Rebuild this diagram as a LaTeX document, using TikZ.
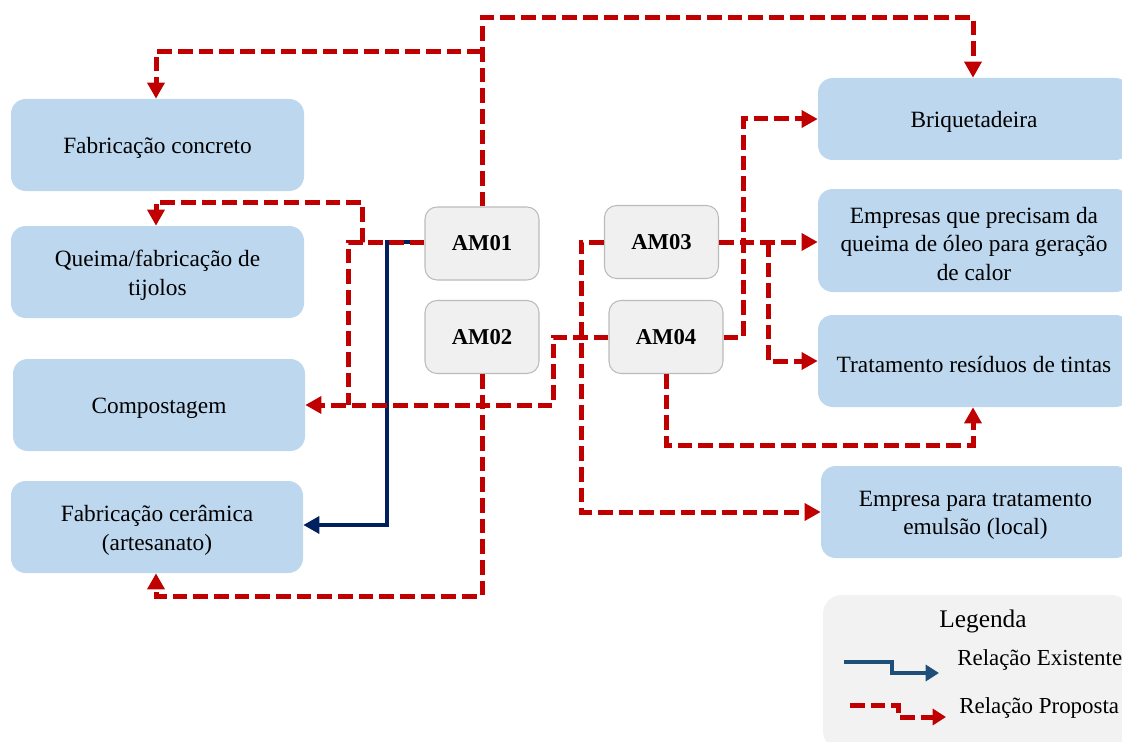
\documentclass[tikz,border=0pt]{standalone}
\usepackage{fontspec}
\setmainfont{Liberation Serif}
\usetikzlibrary{arrows.meta}
\definecolor{boxblue}{HTML}{BDD7EE}
\definecolor{amfill}{HTML}{F0F0F0}
\definecolor{amdraw}{HTML}{BBBBBB}
\definecolor{propred}{HTML}{C00000}
\definecolor{exblue}{HTML}{002060}
\definecolor{legblue}{HTML}{1F4E79}
\definecolor{legfill}{HTML}{F2F2F2}
\tikzset{
  lbox/.style={fill=boxblue, draw=none, rounded corners=11pt, inner sep=0pt},
  ltext/.style={align=center, font=\fontsize{17.5}{21.4}\selectfont, inner sep=0pt, yshift=-2.5pt},
  ambox/.style={fill=amfill, draw=amdraw, line width=0.8pt, rounded corners=9pt,
    minimum width=85.5pt, minimum height=54.75pt, font=\fontsize{17}{20}\selectfont\bfseries},
  prop/.style={draw=propred, line width=3.75pt, dash pattern=on 11pt off 4.5pt},
  propa/.style={prop, -{Triangle[length=12pt,width=12.5pt]}},
  exist/.style={draw=exblue, line width=3pt, -{Triangle[length=12pt,width=12.5pt]}},
  legtxt/.style={font=\fontsize{17.2}{20}\selectfont, anchor=west, inner sep=0pt},
}
\begin{document}
\begin{tikzpicture}[x=0.75pt, y=-0.75pt]
\useasboundingbox (0,0) rectangle (1122,742);
% left boxes
\node[lbox, minimum width=219.75pt, minimum height=69pt] (conc) at (157.5,145) {};
\node[ltext] (concT) at (conc) {Fabricação concreto};
\node[lbox, minimum width=219.75pt, minimum height=69pt] (tij) at (157.5,272) {};
\node[ltext] (tijT) at (tij) {Queima/fabricação de\\tijolos};
\node[lbox, minimum width=219pt, minimum height=69pt] (comp) at (159,405) {};
\node[ltext] (compT) at (comp) {Compostagem};
\node[lbox, minimum width=219pt, minimum height=69pt] (cer) at (157,527) {};
\node[ltext] (cerT) at (cer) {Fabricação cerâmica\\(artesanato)};
% right boxes
\node[lbox, minimum width=234pt, minimum height=61.5pt] (briq) at (974,119) {};
\node[ltext] (briqT) at (briq) {Briquetadeira};
\node[lbox, minimum width=234pt, minimum height=77.25pt] (emp) at (974,240.5) {};
\node[ltext] (empT) at (emp) {Empresas que precisam da\\queima de óleo para geração\\de calor};
\node[lbox, minimum width=234pt, minimum height=69pt] (trat) at (974,361) {};
\node[ltext] (tratT) at (trat) {Tratamento resíduos de tintas};
\node[lbox, minimum width=231.75pt, minimum height=69pt] (emul) at (975.5,512) {};
\node[ltext] (emulT) at (emul) {Empresa para tratamento\\emulsão (local)};
% AM boxes
\node[ambox] (am1) at (482,243.5) {AM01};
\node[ambox] (am2) at (482,337) {AM02};
\node[ambox] (am3) at (661.5,242) {AM03};
\node[ambox] (am4) at (666,337) {AM04};
% coordinates
\coordinate (t1) at (482,18);
\coordinate (t2) at (973,18);
\coordinate (j1) at (482,52);
\coordinate (c1) at (156,52);
\coordinate (q0) at (362,242);
\coordinate (q1) at (362,202);
\coordinate (q2) at (156,202);
\coordinate (k1) at (348,242);
\coordinate (k2) at (348,405);
\coordinate (b1) at (387,242);
\coordinate (b2) at (387,525);
\coordinate (s1) at (482,596);
\coordinate (s2) at (156,596);
\coordinate (m1) at (553,337);
\coordinate (m2) at (553,405);
\coordinate (e1) at (581,242);
\coordinate (e2) at (581,512);
\coordinate (r1) at (768,242);
\coordinate (r2) at (768,361);
\coordinate (p1) at (743,337);
\coordinate (p2) at (743,119);
\coordinate (u1) at (666,445);
\coordinate (u2) at (973,445);
% existing relation
\draw[exist] (am1.west |- b1) -- (b1) -- (b2) -- (b2 -| cer.east);
% proposed relations
\draw[propa] (am1.north) -- (t1) -- (t2) -- (t2 |- briq.north);
\draw[propa] (j1) -- (c1) -- (c1 |- conc.north);
\draw[propa] (am1.west |- q0) -- (q0) -- (q1) -- (q2) -- (q2 |- tij.north);
\draw[prop] (q0) -- (k1) -- (k2);
\draw[propa] (am2.south) -- (s1) -- (s2) -- (s2 |- cer.south);
\draw[propa] (am4.west) -- (m1) -- (m2) -- (m2 -| comp.east);
\draw[propa] (am3.west |- e1) -- (e1) -- (e2) -- (e2 -| emul.west);
\draw[propa] (am3.east |- r1) -- (r1 -| emp.west);
\draw[propa] (r1) -- (r2) -- (r2 -| trat.west);
\draw[propa] (am4.east) -- (p1) -- (p2) -- (p2 -| briq.west);
\draw[propa] (am4.south) -- (u1) -- (u2) -- (u2 |- trat.south);
% legend
\node[fill=legfill, draw=none, rounded corners=14pt, minimum width=230.25pt, minimum height=116.25pt] (leg) at (976.5,672.5) {};
\node[font=\fontsize{19}{22}\selectfont] (legt) at (983,621) {Legenda};
\coordinate (la1) at (844,662);
\coordinate (la2) at (892,662);
\coordinate (la3) at (892,673);
\coordinate (la4) at (939,673);
\draw[draw=legblue, line width=3pt, -{Triangle[length=10pt,width=12pt]}] (la1) -- (la2) -- (la3) -- (la4);
\coordinate (lb1) at (850,705);
\coordinate (lb2) at (898,705);
\coordinate (lb3) at (898,717);
\coordinate (lb4) at (946,717);
\draw[draw=propred, line width=3.75pt, dash pattern=on 11pt off 4.5pt, -{Triangle[length=10pt,width=12pt]}] (lb1) -- (lb2) -- (lb3) -- (lb4);
\node[legtxt] (lx) at (957,660) {Relação Existente};
\node[legtxt] (lp) at (959,708) {Relação Proposta};
\end{tikzpicture}
\end{document}
